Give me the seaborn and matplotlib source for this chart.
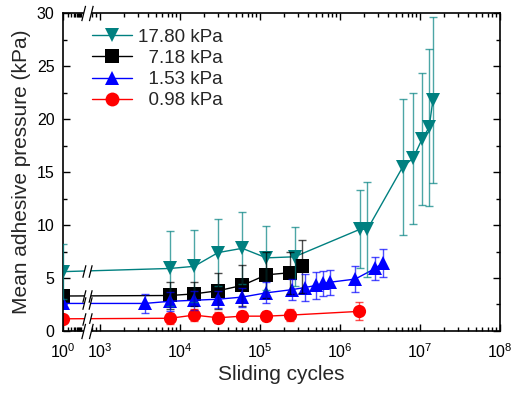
import numpy as np
import pandas as pd
import seaborn as sns
import matplotlib
matplotlib.use('Agg')
import matplotlib.pyplot as plt
from matplotlib.ticker import FixedLocator, FuncFormatter, MultipleLocator
from matplotlib.path import Path

loads = ['17.80 kPa', '  7.18 kPa', '  1.53 kPa', '  0.98 kPa']
colors = ['#008080', '#000000', '#0000ff', '#ff0000']
markers = ['v', 's', '^', 'o']

teal_x = [1, 7500, 15000, 30000, 60000, 120000, 270000, 1.78e6, 2.2e6, 6.1e6, 8.2e6, 1.06e7, 1.3e7, 1.45e7]
teal_y = [5.6, 5.9, 6.1, 7.4, 7.8, 6.9, 7.0, 9.6, 9.6, 15.5, 16.3, 18.1, 19.2, 21.8]
teal_err = [2.6, 3.5, 3.4, 3.2, 3.4, 3.0, 2.8, 3.7, 4.5, 6.4, 6.2, 6.2, 7.4, 7.8]

black_x = [1, 7500, 15000, 30000, 60000, 120000, 240000, 335000]
black_y = [3.3, 3.35, 3.5, 3.8, 4.3, 5.3, 5.5, 6.1]
black_err = [0, 1.3, 1.1, 1.7, 1.9, 2.2, 2.0, 2.5]

blue_x = [1, 3600, 7500, 15000, 30000, 60000, 120000, 250000, 365000, 500000, 620000, 750000, 1.55e6, 2.75e6, 3.4e6]
blue_y = [2.6, 2.6, 2.8, 2.9, 3.0, 3.2, 3.6, 3.9, 4.1, 4.3, 4.5, 4.6, 4.9, 5.9, 6.4]
blue_err = [0, 0.9, 0.9, 0.9, 0.8, 0.9, 1.0, 1.0, 1.3, 1.3, 1.2, 1.2, 1.2, 1.1, 1.3]

red_x = [1, 7500, 15000, 30000, 60000, 120000, 240000, 1.73e6]
red_y = [1.15, 1.2, 1.5, 1.25, 1.4, 1.4, 1.5, 1.85]
red_err = [0, 0.5, 0.6, 0.5, 0.5, 0.5, 0.6, 0.85]

series = [(teal_x, teal_y, teal_err), (black_x, black_y, black_err),
          (blue_x, blue_y, blue_err), (red_x, red_y, red_err)]

# broken log axis: 10^0..10^1 squeezed at the left, 800..10^8 normal on the right
S_LEFT = 0.22
L_END = 1.0
L_START = np.log10(800)
OFFSET = 0.4625 - 3
PA = S_LEFT * L_END
PB = L_START + OFFSET


def fwd(x):
    L = np.log10(np.clip(np.asarray(x, dtype=float), 1e-300, None))
    mid = PA + (L - L_END) * (PB - PA) / (L_START - L_END)
    return np.where(L <= L_END, S_LEFT * L, np.where(L >= L_START, L + OFFSET, mid))


def inv(p):
    p = np.asarray(p, dtype=float)
    mid = L_END + (p - PA) * (L_START - L_END) / (PB - PA)
    return 10 ** np.where(p <= PA, p / S_LEFT, np.where(p >= PB, p - OFFSET, mid))


df = pd.concat([pd.DataFrame({'cycles': xs, 'pressure': ys, 'load': lab})
                for lab, (xs, ys, es) in zip(loads, series)], ignore_index=True)

sns.set_style('ticks')
plt.rcParams['font.family'] = ['Liberation Sans', 'DejaVu Sans']
plt.rcParams['mathtext.default'] = 'regular'

fig, ax = plt.subplots(figsize=(5.19, 3.94), dpi=100)
fig.subplots_adjust(left=0.1214, right=0.9634, bottom=0.1599, top=0.967)
ax.set_xscale('function', functions=(fwd, inv))

sns.lineplot(data=df, x='cycles', y='pressure', hue='load', style='load',
             hue_order=loads, style_order=loads, palette=colors, markers=markers,
             dashes=False, markersize=9.5, markeredgewidth=0, linewidth=1,
             estimator=None, ax=ax)

for (xs, ys, es), c in zip(series, colors):
    xs, ys, es = np.array(xs), np.array(ys), np.array(es)
    m = es > 0
    ax.errorbar(xs[m], ys[m], yerr=es[m], fmt='none', ecolor=c, elinewidth=1,
                capsize=3, capthick=1, alpha=0.7, zorder=3)

# break marks
slash = Path([(-3, -4), (-1, 4), (1, -4), (3, 4)],
             [Path.MOVETO, Path.LINETO, Path.MOVETO, Path.LINETO])
gap = Path([(-3, -4), (1, -4), (3, 4), (-1, 4), (-3, -4)],
           [Path.MOVETO, Path.LINETO, Path.LINETO, Path.LINETO, Path.CLOSEPOLY])
x_break = float(inv(0.3))
for xs, ys, es in series:
    yb = np.interp(0.3, fwd(xs[:2]), ys[:2])
    ax.plot([x_break], [yb], marker=gap, ms=9, mfc='white', mew=0, ls='none', zorder=4)
    ax.plot([x_break], [yb], marker=slash, ms=9, mfc='none', mec='black', mew=0.9, ls='none', zorder=5)
for yb in [0, 30]:
    ax.plot([x_break], [yb], marker=gap, ms=11, mfc='white', mew=0, ls='none', zorder=6, clip_on=False)
    ax.plot([x_break], [yb], marker=slash, ms=11, mfc='none', mec='black', mew=0.9, ls='none', zorder=7, clip_on=False)

ax.set_xlim(1, 1e8)
ax.set_ylim(0, 30)
major = [1, 1e3, 1e4, 1e5, 1e6, 1e7, 1e8]
minor = list(range(2, 11)) + [800, 900] + [k * 10 ** d for d in range(3, 8) for k in range(2, 10)]
ax.xaxis.set_major_locator(FixedLocator(major))
ax.xaxis.set_minor_locator(FixedLocator(minor))
ax.xaxis.set_major_formatter(FuncFormatter(lambda v, pos: '$10^{%d}$' % round(np.log10(v))))
ax.yaxis.set_major_locator(MultipleLocator(5))
ax.yaxis.set_minor_locator(MultipleLocator(2.5))
ax.tick_params(which='both', direction='in', top=True, right=True, width=1, labelsize=11.5, colors='black')
ax.tick_params(which='major', length=5)
ax.tick_params(which='minor', length=3)
ax.tick_params(axis='x', which='major', pad=8)
ax.tick_params(axis='y', which='major', pad=6)
for sp in ax.spines.values():
    sp.set_linewidth(1.2)
    sp.set_color('black')

ax.set_xlabel('Sliding cycles', fontsize=15, labelpad=3)
ax.set_ylabel('Mean adhesive pressure (kPa)', fontsize=15, labelpad=4)

handles, labels = ax.get_legend_handles_labels()
for h in handles:
    h.set_markersize(10)
ax.legend(handles, labels, loc='upper left', bbox_to_anchor=(0.05, 0.975), frameon=False,
          fontsize=13.5, handlelength=2.1, handletextpad=0.35, labelspacing=0.22, borderaxespad=0)

fig.savefig('out.png', dpi=100)
